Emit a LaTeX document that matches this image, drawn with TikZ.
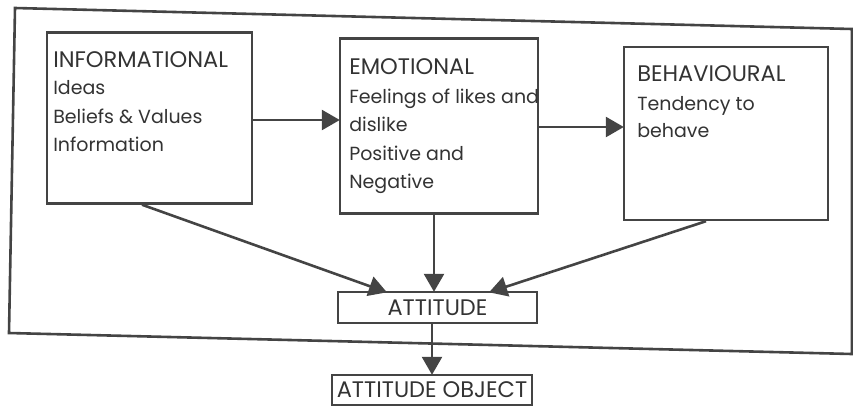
\documentclass[tikz,border=0pt]{standalone}
\usepackage{fontspec}
\setmainfont{Poppins}
\usetikzlibrary{arrows.meta}
\definecolor{ink}{HTML}{444444}
\definecolor{txt}{HTML}{333333}
\begin{document}
\begin{tikzpicture}[x=1pt,y=-1pt,
  line width=2.6pt, draw=ink,
  comp/.style={draw=ink, line width=2.4pt, rectangle, inner sep=0pt},
  lbl/.style={anchor=base west, text=txt, inner sep=0pt, font=\fontsize{19}{22}\selectfont},
  headlbl/.style={lbl, font=\fontsize{22.5}{26}\selectfont},
  arr/.style={draw=ink, line width=2.6pt, -{Triangle[length=18pt,width=20pt]}, shorten >=-1pt},
  ]
\useasboundingbox (0,0) rectangle (853,408);
% outer frame (slightly skewed, as scanned)
\coordinate (f1) at (15,8);
\coordinate (f2) at (852,29);
\coordinate (f3) at (852,354);
\coordinate (f4) at (9,333);
\draw[ink, line width=2.6pt] (f1) -- (f2) -- (f3) -- (f4) -- cycle;
% boxes
\node[comp, minimum width=205pt, minimum height=171pt] (info) at (149.5,118) {};
\node[comp, minimum width=198pt, minimum height=175pt] (emo) at (439,126) {};
\node[comp, minimum width=204pt, minimum height=173pt] (beh) at (726,133.5) {};
\node[comp, minimum width=199pt, minimum height=31pt] (att) at (437.5,307.5) {};
\node[comp, minimum width=200pt, minimum height=30pt] (obj) at (432,390) {};
% texts
\node[headlbl] (t1) at (52,67) {INFORMATIONAL};
\node[lbl] (t2) at (52,94) {Ideas};
\node[lbl] (t3) at (52,123) {Beliefs \& Values};
\node[lbl] (t4) at (52,151) {Information};
\node[headlbl] (e1) at (348,74) {EMOTIONAL};
\node[lbl] (e2) at (348,103) {Feelings of likes and};
\node[lbl] (e3) at (348,131) {dislike};
\node[lbl] (e4) at (348,160) {Positive and};
\node[lbl] (e5) at (348,188) {Negative};
\node[headlbl] (b1) at (636,81) {BEHAVIOURAL};
\node[lbl] (b2) at (636,110) {Tendency to};
\node[lbl] (b3) at (636,137) {behave};
\node[text=txt, inner sep=0pt, font=\fontsize{22.5}{26}\selectfont] (a1) at (att.center) {ATTITUDE};
\node[text=txt, inner sep=0pt, font=\fontsize{22.5}{26}\selectfont] (o1) at (obj.center) {ATTITUDE OBJECT};
% connectors
\draw[arr] (info.east |- 0,120) -- (emo.west |- 0,120);
\draw[arr] (emo.east |- 0,127) -- (beh.west |- 0,127);
\coordinate (ib) at (142,204);
\coordinate (at1) at (386,292);
\draw[arr] (info.south -| ib) -- (at1);
\draw[arr] (emo.south -| 434,0) -- (att.north -| 434,0);
\coordinate (bb) at (706,221);
\coordinate (at2) at (490,292);
\draw[arr] (beh.south -| bb) -- (at2);
\draw[arr] (att.south -| 432,0) -- (obj.north -| 432,0);
\end{tikzpicture}
\end{document}
